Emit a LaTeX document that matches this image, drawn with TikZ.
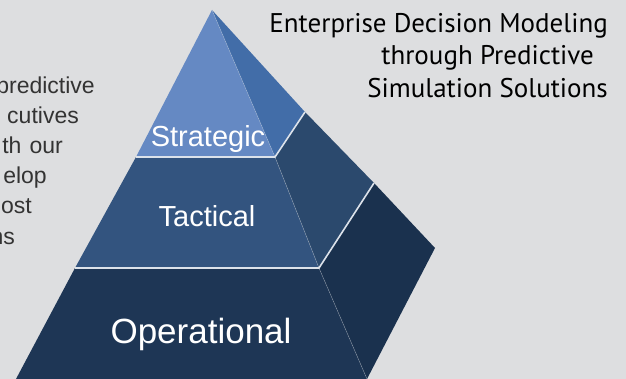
\documentclass[tikz,border=0pt]{standalone}
\usepackage{fontspec}
\setmainfont{Liberation Sans}
\newfontfamily\titlefont{PT Sans}
\usetikzlibrary{calc}

\definecolor{bgcol}{HTML}{DDDEE0}
\definecolor{bodytext}{HTML}{333333}
\definecolor{strfront}{HTML}{6589C3}
\definecolor{strside}{HTML}{426DA8}
\definecolor{tacfront}{HTML}{33547F}
\definecolor{tacside}{HTML}{2B496D}
\definecolor{opfront}{HTML}{1E3655}
\definecolor{opside}{HTML}{1A314E}
\definecolor{seamcol}{HTML}{DCE2EA}

\tikzset{
  layer label/.style={text=white, inner sep=0pt, anchor=base},
  intro text/.style={text=bodytext, inner sep=0pt, anchor=base east, font=\fontsize{23}{28}\selectfont},
  title text/.style={text=black, inner sep=0pt, anchor=base east, font=\titlefont\fontsize{27}{32}\selectfont},
  seam/.style={draw=seamcol, line width=1.6pt},
  ridge/.style={draw=white, line width=0.5pt, opacity=0.35}
}

\begin{document}
\begin{tikzpicture}[x=1pt, y=-1pt]

\useasboundingbox (0,0) rectangle (626,379);
\clip (0,0) rectangle (626,379);
\fill[bgcol] (0,0) rectangle (626,379);

% Intro text (cut at the left border)
\node[intro text] (intro1) at (95,94) {predictive};
\node[intro text] (intro2) at (79,124) {cutives};
\node[intro text] (intro3) at (63,154) {th\hspace{0.35em}our};
\node[intro text] (intro4) at (47,184) {elop};
\node[intro text] (intro5) at (32,214) {ost};
\node[intro text] (intro6) at (15,244) {ns};

% Title
\node[title text] (title1) at (608,33) {Enterprise Decision Modeling};
\node[title text] (title2) at (594,65) {through Predictive};
\node[title text] (title3) at (608,98) {Simulation Solutions};

% Pyramid corners
\coordinate (apex) at (212,10);
\coordinate (sl) at (136,157);
\coordinate (sr) at (275,157);
\coordinate (sb) at (305,112);
\coordinate (tl) at (75,268);
\coordinate (tr) at (319,268);
\coordinate (tb) at (374,183);
\coordinate (ol) at (16,379);
\coordinate (or) at (367,379);
\coordinate (ob) at (435,248);

% Operational layer
\fill[opfront] (tl) -- (tr) -- ($(tr)!1.15!(or)$) -- ($(tl)!1.15!(ol)$) -- cycle;
\fill[opside] (tr) -- (tb) -- (ob) -- (or) -- cycle;
\draw[ridge] (tr) -- (or);

% Tactical layer
\fill[tacfront] (sl) -- (sr) -- (tr) -- (tl) -- cycle;
\fill[tacside] (sr) -- (sb) -- (tb) -- (tr) -- cycle;
\draw[ridge] (sr) -- (tr);

% Strategic layer
\fill[strfront] (apex) -- (sl) -- (sr) -- cycle;
\fill[strside] (apex) -- (sr) -- (sb) -- cycle;
\draw[ridge] (apex) -- (sr);

% Seams between the layers
\draw[seam] (sl) -- (sr) -- (sb);
\draw[seam] (tl) -- (tr) -- (tb);

% Layer names
\node[layer label, font=\fontsize{29}{30}\selectfont] (strategic) at (208,147) {Strategic};
\node[layer label, font=\fontsize{29}{30}\selectfont] (tactical) at (207,227) {Tactical};
\node[layer label, font=\fontsize{35}{36}\selectfont] (operational) at (201,343) {Operational};

\end{tikzpicture}
\end{document}
